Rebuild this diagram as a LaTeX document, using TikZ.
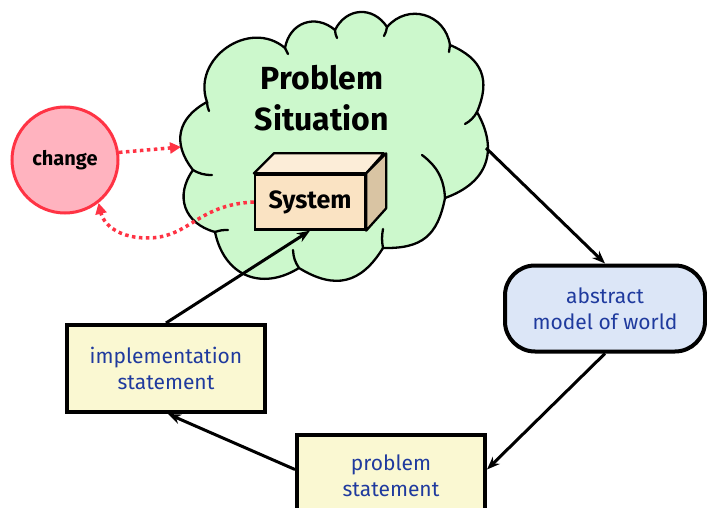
\documentclass[tikz,border=0pt]{standalone}
\usepackage{fontspec}
\setmainfont{Fira Sans}
\usetikzlibrary{arrows.meta}
\definecolor{cloudgreen}{HTML}{CCF8CC}
\definecolor{chfill}{HTML}{FFB3BF}
\definecolor{chred}{HTML}{FF3344}
\definecolor{sysfront}{HTML}{FAE3C3}
\definecolor{systop}{HTML}{FCEDD8}
\definecolor{sysside}{HTML}{D9C4A3}
\definecolor{absfill}{HTML}{DCE6F7}
\definecolor{yel}{HTML}{FAF8D2}
\definecolor{txtblue}{HTML}{1F3A9E}
\tikzset{
  box/.style={draw=black, line width=4pt, fill=yel, text=txtblue, align=center,
     font=\fontsize{21}{26}\selectfont, inner sep=0pt},
  flow/.style={line width=3pt, -{Stealth[length=13pt,width=10pt]}},
  redflow/.style={draw=chred, line width=3.5pt, dash pattern=on 3.5pt off 3.5pt,
     -{Triangle[length=11pt,width=11pt]}},
  puff/.style={bend left=#1, looseness=1.25},
  cloudline/.style={line width=2.3pt, line cap=round}
}
\begin{document}
\begin{tikzpicture}[x=1pt,y=1pt]
\useasboundingbox (0,0) rectangle (707,507);
\clip (0,0) rectangle (707,507);
% cloud junctions
\coordinate (j1) at (193,337);
\coordinate (j2) at (207,405);
\coordinate (j3) at (285,459);
\coordinate (j4) at (335,477);
\coordinate (j5) at (387,480);
\coordinate (j6) at (450,462);
\coordinate (j7) at (477,395);
\coordinate (j8) at (445,309);
\coordinate (j9) at (383,259);
\coordinate (j10) at (299,239);
\coordinate (j11) at (215,275);
\coordinate (cloudE) at (486,359);
\coordinate (cloudW) at (181,360);
\draw[cloudline, fill=cloudgreen] (j1) to[puff=50] (j2) to[puff=75] (j3) to[puff=60] (j4)
  to[puff=60] (j5) to[puff=65] (j6) to[puff=45] (j7) to[puff=50] (j8) to[puff=40] (j9)
  to[puff=45] (j10) to[puff=55] (j11) to[puff=55] cycle;
% puff tails
\draw[cloudline] (j1) to[bend right=15] (212,332);
\draw[cloudline] (j2) to[bend right=10] (209,396);
\draw[cloudline] (j3) to[bend right=10] (288,453);
\draw[cloudline] (j4) to[bend right=10] (337,469);
\draw[cloudline] (j5) to[bend left=10] (384,471);
\draw[cloudline] (j6) to[bend left=10] (449,455);
\draw[cloudline] (j7) to[bend left=15] (465,383);
\draw[cloudline] (j8) to[bend right=25] (422,352);
\draw[cloudline] (j9) to[bend left=10] (383,278);
\draw[cloudline] (j10) to[bend left=15] (293,257);
\draw[cloudline] (j11) to[bend left=10] (228,277);
\node[font=\fontsize{32}{41}\selectfont\bfseries, align=center] (title) at (322,409) {Problem\\Situation};
% system box
\node[draw=black, line width=2.3pt, fill=sysfront, minimum width=110pt, minimum height=55pt,
  font=\fontsize{25}{28}\selectfont\bfseries, inner sep=0pt] (sys) at (310,305) {System};
\draw[line width=2.3pt, fill=systop, line join=round] (sys.north west) -- ++(20,20) -- ++(110,0) -- (sys.north east) -- cycle;
\draw[line width=2.3pt, fill=sysside, line join=round] (sys.north east) -- ++(20,20) -- ++(0,-55) -- (sys.south east) -- cycle;
% change
\node[circle, draw=chred, line width=3pt, fill=chfill, minimum size=106pt, inner sep=0pt,
  font=\fontsize{20}{22}\selectfont\bfseries] (change) at (65,347) {change};
% other boxes
\node[box, fill=absfill, rounded corners=30pt, minimum width=200pt, minimum height=86pt] (abs) at (605,198.5) {abstract\\model of world};
\node[box, minimum width=188pt, minimum height=81pt] (ps) at (391,31.5) {problem\\statement};
\node[box, minimum width=198pt, minimum height=87pt] (impl) at (166,138.5) {implementation\\statement};
% arrows
\draw[flow] (cloudE) -- (abs.north);
\draw[flow] (abs.south) -- ([yshift=6pt]ps.east);
\draw[flow] ([yshift=6pt]ps.west) -- ([xshift=2pt]impl.south);
\draw[flow] (impl.north) -- (sys.south);
\draw[redflow] (change.8) -- (cloudW);
\draw[redflow] (sys.west) .. controls (195,302) and (190,268) .. (145,269) .. controls (115,270) and (103,285) .. (change.-52);
\end{tikzpicture}
\end{document}
